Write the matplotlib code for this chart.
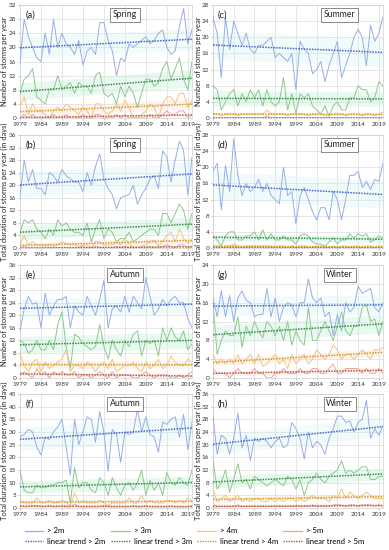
import numpy as np
import matplotlib
matplotlib.use("Agg")
import matplotlib.pyplot as plt
from matplotlib.lines import Line2D

plt.rcParams['font.family'] = ['Lato', 'DejaVu Sans']

years = list(range(1979, 2021))
xticks = list(range(1979, 2020, 5))

# ---- (a) Spring, number of storms
a_2m = [16,28,23,20,17,16,24,18,28,20,24,21,20,18,22,15,19,20,18,27,27,22,19,12,17,16,21,20,21,22,23,21,22,24,25,20,18,19,26,31,21,25]
a_3m = [7,11,12,14,6,5,4,8,8,12,8,9,10,7,10,9,9,7,12,13,7,6,7,4,9,6,9,7,3,7,11,11,9,10,14,16,11,14,17,11,8,16]
a_4m = [3,6,1,4,2,2,1,0,2,3,2,4,3,2,1,3,2,0,4,4,2,1,2,4,2,5,3,0,0,1,2,4,3,0,4,6,6,4,7,7,3,5]
a_5m = [0,1,0,1,0,0,0,0,1,0,0,1,0,0,0,1,0,0,1,1,0,0,0,1,0,1,0,0,0,0,0,1,0,0,1,2,1,1,2,2,0,1]
# ---- (b) Spring, total duration
b_2m = [16.5,28,21,25,19,19,17,24,23,21,25,23,22,21,21,18,24,20,26,30,22,19,17,12.5,16,16.5,17,20,14,17,19,22,23,19,31,29,21,28,34,31,17,29]
b_3m = [5,9,8,9,6,5,3,6,4,9,7,8,6,5,5,4,8,2,6,9,3,6,5,2,3,3,5,2,3,4,5,6,6,4,11,11,8,11,14,12,6,11]
b_4m = [1,4,1,2,1,1,0.5,1,0.5,1,2,1.5,1,1,0.5,1,1,0,2,2,1,1,1,2,1,3,1.5,0,0,0.5,1,2,2.5,0.5,2,4,5,2,6,3,1.5,2.5]
b_5m = [0,0.5,0,0,0,0,0,0,0,0,0,0,0,0,0,0.5,0,0,0.5,0,0,0,0,0.5,0,0.5,0,0,0,0,0,0.5,0,0,0.5,1,0.5,0,1,1,0,0.5]
# ---- (c) Summer, number of storms
c_2m = [25,21,10,25,17,24,21,18,21,17,16,18,18,19,20,15,16,15,14,16,7,19,17,16,11,12,14,9,13,16,19,10,13,16,20,22,20,13,23,19,21,25]
c_3m = [8,7,2,4,6,7,3,6,4,7,5,7,3,7,4,3,4,10,2,6,1,6,5,6,3,2,1,3,0.5,3,4,2,2,5,5,8,7,7,4,5,9,8]
c_4m = [1,1,0.5,1,1,1,0.5,1,1,1,1,1,1,2,1,1,1,1,0.5,1,1,1,1,0.5,1,1,1,0.5,0.5,1,1,1,0.5,1,1,1,0.5,1,1,0.5,1,1.5]
c_5m = [0,0,0,0,0,0,0,0,0,0,0,0,0,0.5,0,0,0,0,0,0,0,0,0,0,0,0,0,0,0,0,0,0,0,0,0,0,0,0,0,0,0,0]
# ---- (d) Summer, total duration
d_2m = [19,21,9.5,20.5,14,27,18,13,16,14,15,17,14,16,13,12,11,20,13,14,6,13,15,12,9,7,10,10,7,14,12,7,12,18,18,19,15,16.5,14.5,17,16.5,21]
d_3m = [3,2,0.5,3,4,4,2,2,3,3,4,2,4.5,2,3.5,2,2,3,2,2,1,3,3.5,3,1.5,1,1,0.5,1.5,2.5,1,2,2,3.5,2.5,3.5,3,3.5,1.5,2,3,2.5]
d_4m = [0.5,0.5,0,0.5,0.5,1,0.5,0,0.5,0.5,0.5,0.5,0.5,0.5,0.5,0,0.5,0.5,0,0.5,0,0.5,0.5,0,0,0.5,0.5,0,0,0.5,0,0.5,0.5,0,0.5,0.5,0,0.5,0.5,0,0.5,0.5]
d_5m = [0,0,0,0,0,0.5,0,0,0,0,0,0,0,0,0,0,0,0,0,0,0,0,0,0,0,0,0,0,0,0,0,0,0,0,0,0,0,0,0,0,0,0]
# ---- (e) Autumn, number of storms
e_2m = [15,22,26,23.5,24,16,27,20,23,25,25,26,16,23,21,20,26,23,20,25,31,16,22,23,21,26,21,26,24,22,32,26,20,22,25,23,25,26,24,24,19,16]
e_3m = [12,11,8,9,12,9,9,12,9,17,21,10,3,14,13,11,10,9,10,17,10,6,12,9,7,12,10,14,15,7,12,11,12,7,16,12,16,13,12,15,9,11]
e_4m = [8,4,2,5,6,2,5,3,4,5,6,9,2,4,4,3,5,4,2,4,5,3,6,2,3,4,4,5,3,2,5,3,4,6,3,4,7,5,4,4,6,5]
e_5m = [1,2,1,0,3,1,2,0,2,1,2,1,1,2,0,1,1,0,1,2,1,0,2,0,1,1,1,0,0,1,2,1,0,1,1,1,0,0,1,0,1,2]
# ---- (f) Autumn, total duration
f_2m = [28,29,31,30,24,21,28,27,30,32,35,24,13,35,25,30,36,35,26,38,30,14.5,31,29,18,30,29,30,39,30,36,29,28,22,34,33,35,36,28,37,23,34]
f_3m = [15,7,6,6,9,8,8,9,9,10,10,11,2,16,8,10,10,7,6,12,10,5,12,8,5,9,10,7,10,15,5,11,7,10,5,14,10,9,12,10,9,15]
f_4m = [3,2,2,2,4,2,2,3,2,2,3,2,1,6,2,3,2,2,2,3,2,1,2,2,2,2,4,2,2,5,2,3,2,2,2,3,3,2,3,2,4,3]
f_5m = [1,0.5,0.5,1,1,0.5,0.5,1,0.5,0.5,1,0.5,0.5,1.5,0.5,0.5,0.5,0.5,0.5,0.5,1,0.5,0.5,0.5,0.5,0.5,0.5,1,0.5,0.5,1,0.5,0.5,0.5,0.5,0.5,1,0.5,0.5,0.5,0.5,1]
# ---- (g) Winter, number of storms
g_2m = [17,13,18.5,13,17.5,12,17,18.5,16.5,16,13,13.5,13.5,19,13,17,12,15,16,15.5,13,16,16,21,17,16,17,13,14,9,13.5,10,16,14,15,19.5,18,18.5,19,15,14,16]
g_3m = [16,5,8,10,9,9,13,6.5,11,9,12,10,8.5,12,11,9,11,8,12,7,10,8,7,15,8,8,10,12,10,8,11,14,10,9,11,11,15,15.5,12,12.5,9,12]
g_4m = [5,3,4,3,4,3,5,3,4,5,3,5,2.5,3,4,5,3,4,2,5,3,4,5,3,4,6,5,4,5,7,6,4,5,5,4,5,6,5,4,6,6,6.5]
g_5m = [2,1,1,1,0,1,2,1,1,1,2,1,1,0,0,1,1,2,1,1,1,2,1,1,2,2,1,1,2,3,1,1,2,2,2,2,1,2,1,1,2,1]
# ---- (h) Winter, total duration
h_2m = [29,17,23,22,17,22,30,19,23,15,22,21,22,21,19,21,22,19,20,27,25,22,15.5,24,19,21,20,17,22,25,29,29,27,27.5,24,27,28,34,22,25,23,26]
h_3m = [15,6,8,12,5,9,14,8,9,6,10,9,8,7,8,9,8,7,10,9,6,9,4,8,9,11,9,8,10,11,12,15,11,12,11,12,13,13,9,9,10,10]
h_4m = [6,2,3,4,2,3,4,2,3,2,3,3,2,2,3,2,3,2,3,3,2,3,2,3,4,3,3,3,2,4,3,6,3,5,4,3,4,5,4,3,3,3]
h_5m = [1,0.5,0.5,0.5,0.5,0.5,1,0.5,0.5,0.5,0.5,0.5,0.5,0.5,0.5,0.5,0.5,0.5,0.5,0.5,0.5,0.5,0.5,0.5,1,0.5,0.5,0.5,0.5,1,1,1,0.5,1,1,0.5,1,1,1,0.5,1,0.5]

series_labels = ["> 2m", "> 3m", "> 4m", "> 5m"]
trend_labels = ["linear trend > 2m", "linear trend > 3m", "linear trend > 4m", "linear trend > 5m"]
line_colors = ["#95aee6", "#8cc88c", "#f2c47e", "#eea0a0"]
trend_colors = ["#4466cc", "#2f8f3f", "#d1a020", "#b0603a"]
band_colors = ["#c8f2f2", "#c9f1dc", "#fde3de", "#fde0e0"]

panels = [
    ("(a)", "Spring", [a_2m, a_3m, a_4m, a_5m], 32, 4, "Number of storms per year", 0, 0),
    ("(b)", "Spring", [b_2m, b_3m, b_4m, b_5m], 36, 4, "Total duration of storms per year (in days)", 0, 1),
    ("(e)", "Autumn", [e_2m, e_3m, e_4m, e_5m], 36, 4, "Number of storms per year", 0, 2),
    ("(f)", "Autumn", [f_2m, f_3m, f_4m, f_5m], 45, 5, "Total duration of storms per year (in days)", 0, 3),
    ("(c)", "Summer", [c_2m, c_3m, c_4m, c_5m], 28, 4, "Number of storms per year", 1, 0),
    ("(d)", "Summer", [d_2m, d_3m, d_4m, d_5m], 28, 4, "Total duration of storms per year (in days)", 1, 1),
    ("(g)", "Winter", [g_2m, g_3m, g_4m, g_5m], 24, 4, "Number of storms per year", 1, 2),
    ("(h)", "Winter", [h_2m, h_3m, h_4m, h_5m], 36, 4, "Total duration of storms per year (in days)", 1, 3),
]

W, H = 389, 550
fig = plt.figure(figsize=(W / 100, H / 100), dpi=100)

col_x = [(20, 192), (213, 383)]
row_y = [(5, 118), (135, 248), (265, 378), (394, 508)]
season_x = [0.61, 0.745]
label_x = [-0.07, -0.064]

yrs = np.array(years, dtype=float)
for letter, season, data, ymax, ystep, ylabel, col, row in panels:
    x0, x1 = col_x[col]
    y0, y1 = row_y[row]
    ax = fig.add_axes([x0 / W, 1 - y1 / H, (x1 - x0) / W, (y1 - y0) / H])
    for i, vals in enumerate(data):
        v = np.array(vals, dtype=float)
        k, b = np.polyfit(yrs, v, 1)
        tr = k * yrs + b
        sd = np.std(v - tr)
        ax.fill_between(yrs, np.clip(tr - 0.8 * sd, 0, None), tr + 0.8 * sd,
                        color=band_colors[i], alpha=0.4 if i else 0.25, lw=0, zorder=1)
    for i, vals in enumerate(data):
        ax.plot(yrs, vals, color=line_colors[i], lw=0.7, zorder=3)
    for i, vals in enumerate(data):
        v = np.array(vals, dtype=float)
        k, b = np.polyfit(yrs, v, 1)
        ax.plot(yrs, k * yrs + b, color=trend_colors[i], lw=1.1,
                linestyle=(0, (1, 0.8)), zorder=4)
    ax.set_xlim(1979, 2020)
    ax.set_ylim(0, ymax)
    ax.set_xticks(xticks)
    ax.set_yticks(np.arange(0, ymax + 0.1, ystep))
    ax.tick_params(axis='both', labelsize=4.6, length=1.5, width=0.4,
                   color="#999999", pad=1.2, labelcolor="#333333")
    ax.grid(True, color="#dcdcdc", lw=0.5)
    ax.set_axisbelow(True)
    for s in ax.spines.values():
        s.set_color("#cfcfcf")
        s.set_linewidth(0.5)
    ax.set_ylabel(ylabel, fontsize=5.4, color="#222222")
    ax.yaxis.set_label_coords(label_x[col], 0.5)
    ax.text(0.03, 0.95, letter, transform=ax.transAxes, fontsize=6.8,
            va="top", ha="left", color="#222222", zorder=6)
    ax.text(season_x[col], 0.915, season, transform=ax.transAxes, fontsize=6.2,
            va="center", ha="center", color="#222222", zorder=6,
            bbox=dict(boxstyle="square,pad=0.3", fc="white", ec="#777777", lw=0.6))

handles = []
labels = []
for i in range(4):
    handles.append(Line2D([], [], color=line_colors[i], lw=0.9))
    labels.append(series_labels[i])
    handles.append(Line2D([], [], color=trend_colors[i], lw=1.0, linestyle=(0, (1, 0.8))))
    labels.append(trend_labels[i])

fig.legend(handles, labels, ncol=4, loc="center", bbox_to_anchor=(0.5, 1 - 536 / H),
           frameon=False, fontsize=5.6, handlelength=2.4, handletextpad=0.5,
           columnspacing=0.7, labelspacing=0.45, borderpad=0.1)

fig.savefig("out.png", dpi=100)
